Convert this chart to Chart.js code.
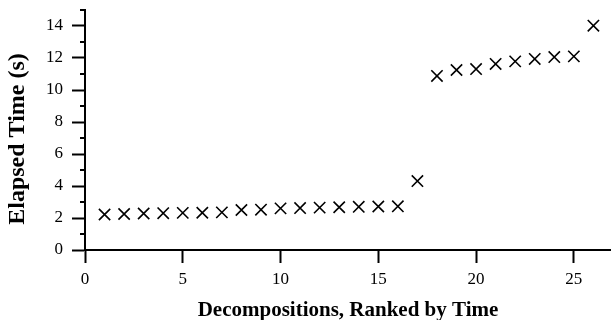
<!DOCTYPE html>
<html>
<head>
<meta charset="utf-8">
<script src="https://cdn.jsdelivr.net/npm/chart.js@4/dist/chart.umd.min.js"></script>
<style>
html,body{margin:0;padding:0;background:#fff;}
#wrap{width:611px;height:320px;position:relative;}
</style>
</head>
<body>
<div id="wrap"><canvas id="c" width="611" height="320"></canvas></div>
<script>
const ranks = [1,2,3,4,5,6,7,8,9,10,11,12,13,14,15,16,17,18,19,20,21,22,23,24,25,26];
const elapsedTimes = [2.22,2.25,2.28,2.3,2.32,2.33,2.35,2.5,2.52,2.6,2.62,2.65,2.67,2.7,2.72,2.73,4.31,10.88,11.25,11.31,11.63,11.79,11.94,12.06,12.1,14.02];
const xTitle = 'Decompositions, Ranked by Time';
const yTitle = 'Elapsed Time (s)';
const xMajorTicks = [0,5,10,15,20,25];
const yMajorTicks = [0,2,4,6,8,10,12,14];
const yMinorTicks = [1,3,5,7,9,11,13,15];

const points = ranks.map((r,i)=>({x:r,y:elapsedTimes[i]}));
const FONT = '"Liberation Serif", "Times New Roman", serif';

const minorTickPlugin = {
  id:'minorTicks',
  afterDraw(chart){
    const ys = chart.scales.y;
    const ctx = chart.ctx;
    ctx.save();
    ctx.strokeStyle = '#000';
    ctx.lineWidth = 2;
    yMinorTicks.forEach(v=>{
      const py = Math.round(ys.getPixelForValue(v));
      ctx.beginPath();
      ctx.moveTo(ys.right, py);
      ctx.lineTo(ys.right-5, py);
      ctx.stroke();
    });
    ctx.restore();
  }
};

function noPad(s){ s.paddingLeft = 0; s.paddingRight = 0; s.paddingTop = 0; s.paddingBottom = 0; }

new Chart(document.getElementById('c'), {
  type:'scatter',
  data:{datasets:[{
    data:points,
    pointStyle:'crossRot',
    pointRadius:8,
    pointHoverRadius:8,
    borderColor:'#000',
    backgroundColor:'#000',
    pointBorderWidth:1.6
  }]},
  options:{
    responsive:false,
    animation:false,
    events:[],
    layout:{autoPadding:false,padding:{top:10,right:0,left:0,bottom:0}},
    plugins:{legend:{display:false},tooltip:{enabled:false}},
    scales:{
      x:{
        type:'linear',min:0,max:26.9,
        afterBuildTicks(s){ s.ticks = xMajorTicks.map(v=>({value:v})); },
        afterFit(s){ s.height = 70; noPad(s); },
        grid:{display:true,drawOnChartArea:false,drawTicks:true,tickLength:13,tickWidth:2,tickColor:'#000'},
        border:{display:true,color:'#000',width:2},
        ticks:{color:'#000',font:{family:FONT,size:17},padding:6,maxRotation:0,autoSkip:false},
        title:{display:true,text:xTitle,color:'#000',font:{family:FONT,size:21,weight:'bold',lineHeight:0.9},padding:{top:4,bottom:0}}
      },
      y:{
        type:'linear',min:0,max:15,
        afterBuildTicks(s){ s.ticks = yMajorTicks.map(v=>({value:v})); },
        afterFit(s){ s.width = 85; noPad(s); },
        grid:{display:true,drawOnChartArea:false,drawTicks:true,tickLength:13,tickWidth:2,tickColor:'#000'},
        border:{display:true,color:'#000',width:2},
        ticks:{color:'#000',font:{family:FONT,size:17},padding:9,autoSkip:false},
        title:{display:true,text:yTitle + '   ',color:'#000',font:{family:FONT,size:24,weight:'bold',lineHeight:1.2},padding:{top:3,bottom:4}}
      }
    }
  },
  plugins:[minorTickPlugin]
});
</script>
</body>
</html>
